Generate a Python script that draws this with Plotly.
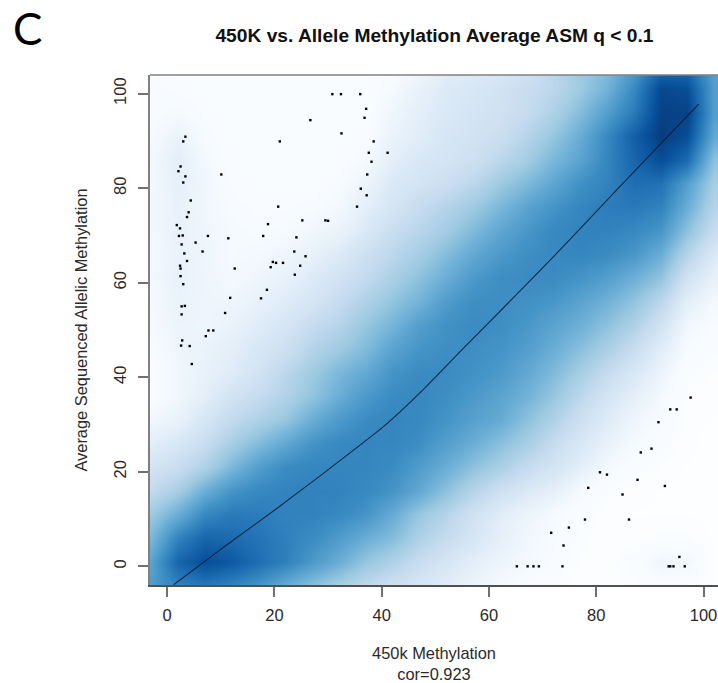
import plotly.graph_objects as go

grid_x = [-3, 2, 7, 12, 17, 22, 27, 32, 37, 42, 47, 52, 57, 62, 67, 72, 77, 82, 87, 92, 97, 102]
grid_y = [-4, 1, 6, 11, 16, 21, 26, 31, 36, 41, 46, 51, 56, 61, 66, 71, 76, 81, 86, 91, 96, 101, 106]
density = [
    [63, 72, 76, 72, 66, 57, 49, 42, 35, 30, 26, 21, 16, 12, 10, 8, 5, 5, 7, 10, 8, 4],
    [60, 82, 90, 86, 79, 73, 64, 56, 46, 40, 32, 26, 20, 16, 13, 10, 6, 5, 9, 15, 14, 4],
    [52, 72, 82, 80, 77, 73, 69, 63, 56, 50, 40, 33, 26, 19, 14, 11, 7, 5, 5, 7, 7, 4],
    [44, 56, 70, 75, 74, 72, 72, 70, 66, 57, 46, 38, 29, 21, 16, 12, 8, 5, 4, 4, 4, 3],
    [34, 42, 56, 66, 70, 72, 72, 72, 70, 66, 58, 48, 38, 30, 24, 19, 12, 7, 5, 4, 3, 3],
    [27, 32, 40, 52, 62, 69, 71, 71, 71, 69, 63, 56, 48, 41, 33, 27, 20, 13, 9, 6, 4, 3],
    [20, 25, 32, 42, 50, 58, 66, 70, 71, 71, 68, 62, 56, 49, 42, 33, 25, 18, 12, 9, 5, 3],
    [14, 18, 26, 34, 40, 46, 56, 64, 69, 71, 70, 66, 61, 57, 48, 40, 30, 22, 15, 11, 5, 4],
    [10, 14, 20, 28, 33, 39, 47, 56, 64, 69, 70, 68, 64, 60, 54, 46, 36, 27, 19, 13, 6, 5],
    [10, 14, 18, 22, 28, 36, 44, 52, 58, 66, 69, 69, 67, 64, 58, 51, 42, 33, 25, 16, 8, 6],
    [11, 15, 17, 20, 25, 30, 38, 44, 51, 60, 66, 68, 68, 66, 62, 56, 49, 41, 32, 21, 11, 8],
    [12, 16, 15, 17, 22, 26, 33, 38, 46, 53, 62, 67, 69, 68, 65, 60, 55, 48, 40, 28, 14, 10],
    [12, 17, 15, 15, 18, 22, 26, 33, 40, 47, 54, 63, 68, 68, 67, 65, 60, 54, 47, 36, 20, 13],
    [13, 18, 15, 13, 15, 18, 23, 28, 34, 41, 48, 56, 64, 68, 69, 69, 66, 62, 55, 47, 28, 18],
    [13, 17, 15, 12, 13, 15, 18, 23, 30, 36, 42, 50, 58, 64, 68, 70, 71, 69, 65, 56, 38, 24],
    [13, 18, 15, 12, 11, 12, 14, 17, 24, 32, 37, 43, 51, 59, 65, 70, 72, 72, 70, 65, 48, 32],
    [13, 18, 14, 11, 10, 10, 11, 13, 20, 26, 33, 38, 44, 52, 60, 66, 71, 74, 75, 72, 56, 38],
    [13, 19, 14, 10, 9, 9, 9, 11, 16, 24, 27, 31, 36, 44, 51, 59, 67, 72, 79, 78, 62, 42],
    [13, 20, 13, 9, 8, 8, 8, 9, 12, 20, 25, 27, 30, 36, 43, 52, 60, 71, 82, 90, 80, 48],
    [12, 17, 11, 9, 8, 8, 8, 8, 10, 17, 21, 26, 28, 31, 38, 46, 56, 70, 84, 96, 90, 58],
    [11, 12, 10, 9, 8, 8, 8, 8, 9, 15, 20, 24, 27, 29, 33, 40, 50, 62, 75, 94, 94, 62],
    [11, 10, 9, 8, 8, 8, 8, 8, 9, 12, 18, 23, 25, 28, 32, 36, 44, 54, 70, 92, 90, 62],
    [10, 9, 8, 8, 8, 8, 8, 8, 9, 10, 14, 20, 22, 24, 27, 36, 44, 50, 62, 78, 78, 60],
]

point_x = [30.8, 32.4, 36.0, 37.1, 36.8, 26.7, 32.5, 3.4, 3.0, 21.0, 38.5, 37.6, 41.1, 38.1, 2.5, 2.1,
           3.4, 10.1, 3.0, 37.3, 36.1, 37.2, 4.4, 20.7, 35.4, 4.0, 3.7, 25.2, 29.5, 30.0, 1.8, 2.4,
           18.8, 2.9, 2.2, 7.6, 11.4, 17.9, 24.1, 5.3, 2.7, 6.6, 3.2, 23.7, 3.7, 25.8, 19.7, 20.3,
           21.6, 19.3, 24.8, 2.4, 2.5, 12.6, 2.5, 23.8, 3.0, 18.6, 11.75, 17.5, 2.7, 3.3, 2.7, 10.8,
           7.7, 8.6, 7.2, 2.8, 2.6, 4.2, 4.6,
           65.2, 67.2, 68.3, 69.3, 73.7, 71.6, 74.9, 73.9, 77.9, 86.1, 84.9, 78.5, 80.7, 82.0, 87.7,
           92.8, 88.3, 90.3, 91.6, 93.8, 95.0, 97.6, 93.5, 93.8, 94.4, 96.5, 95.5]
point_y = [99.9, 99.9, 99.9, 96.8, 94.9, 94.4, 91.6, 90.9, 89.9, 89.9, 89.9, 87.5, 87.5, 85.6, 84.6, 83.6,
           82.5, 82.9, 81.2, 82.9, 79.9, 78.5, 77.4, 76.1, 76.1, 74.9, 73.9, 73.2, 73.2, 73.1, 72.2, 71.5,
           72.4, 70.0, 69.9, 69.9, 69.4, 69.9, 69.6, 68.5, 68.1, 66.6, 66.2, 66.6, 64.6, 65.6, 64.4, 64.2,
           64.2, 63.3, 63.6, 63.6, 63.0, 63.0, 61.4, 61.7, 59.7, 58.5, 56.8, 56.7, 55.0, 55.1, 53.3, 53.6,
           49.9, 49.9, 48.7, 47.8, 46.7, 46.6, 42.8,
           0, 0, 0, 0, 0, 7.1, 8.2, 4.4, 9.9, 9.9, 15.2, 16.6, 19.9, 19.4, 18.3,
           17.0, 24.1, 24.9, 30.5, 33.2, 33.2, 35.7, 0, 0, 0, 0, 2.0]

trend_x = [1.2, 6.2, 10.0, 20.5, 28.7, 40.5, 47.4, 55.3, 64.0, 72.7, 83.2, 89.5, 99.1]
trend_y = [-3.9, 0.35, 3.6, 12.3, 19.3, 29.7, 37.0, 46.2, 56.2, 66.3, 78.9, 86.4, 97.8]

tick_values = [0, 20, 40, 60, 80, 100]
blues = [[0.0, "#ffffff"], [0.111, "#f7fbff"], [0.222, "#deebf7"], [0.333, "#c6dbef"], [0.444, "#9ecae1"],
         [0.556, "#6baed6"], [0.667, "#4292c6"], [0.778, "#2171b5"], [0.889, "#08519c"], [1.0, "#08306b"]]

fig = go.Figure()
fig.add_trace(go.Heatmap(x=grid_x, y=grid_y, z=density, zmin=0, zmax=100, colorscale=blues,
                         zsmooth="best", showscale=False, hoverinfo="skip"))
fig.add_trace(go.Scatter(x=trend_x, y=trend_y, mode="lines", showlegend=False,
                         line=dict(color="rgba(10,25,45,0.85)", width=1.1, shape="spline", smoothing=0.4)))
fig.add_trace(go.Scatter(x=point_x, y=point_y, mode="markers", showlegend=False,
                         marker=dict(color="#000000", size=2.4, symbol="square")))

tick_font = dict(family="Liberation Sans", size=16.5, color="#2a2a2a")
fig.update_layout(
    width=718, height=683, margin=dict(l=150, r=0, t=75, b=98),
    paper_bgcolor="white", plot_bgcolor="white", showlegend=False,
    font=dict(family="Liberation Sans", color="#2a2a2a"),
    title=dict(text="<b>450K vs. Allele Methylation Average ASM q &lt; 0.1</b>", x=434.5 / 718, xanchor="center",
               y=1 - 35 / 683, yanchor="middle", font=dict(family="Liberation Sans", size=19.2, color="#111111")),
    xaxis=dict(range=[-3.2, 102.7], tickvals=tick_values, ticks="outside", ticklen=10, tickwidth=1.5,
               tickcolor="#707070", linecolor="#505050", linewidth=1.5, showgrid=False, zeroline=False,
               tickfont=tick_font, ticklabelstandoff=4,
               title=dict(text="450k Methylation<br>cor=0.923", font=dict(size=16.4, color="#2a2a2a"), standoff=26)),
    yaxis=dict(range=[-3.95, 103.95], tickvals=tick_values, ticks="outside", ticklen=10, tickwidth=1.5,
               tickcolor="#707070", linecolor="#808080", linewidth=2, showgrid=False, zeroline=False,
               tickangle=-90, tickfont=tick_font, ticklabelstandoff=5,
               title=dict(text="Average Sequenced Allelic Methylation", font=dict(size=16.4, color="#2a2a2a"), standoff=20)),
    shapes=[dict(type="line", xref="paper", yref="paper", x0=0, x1=1, y0=1, y1=1,
                 line=dict(color="#808080", width=1.5))],
    annotations=[dict(text="C", xref="paper", yref="paper", x=(27 - 150) / 568, y=(585 - 28) / 510, xanchor="center",
                      yanchor="middle", showarrow=False,
                      font=dict(family="Lato", size=44, color="#000000"))],
)
fig.write_html("out.html", config={"displayModeBar": False},
               post_script="document.body.style.margin='0';document.documentElement.style.overflow='hidden';")
